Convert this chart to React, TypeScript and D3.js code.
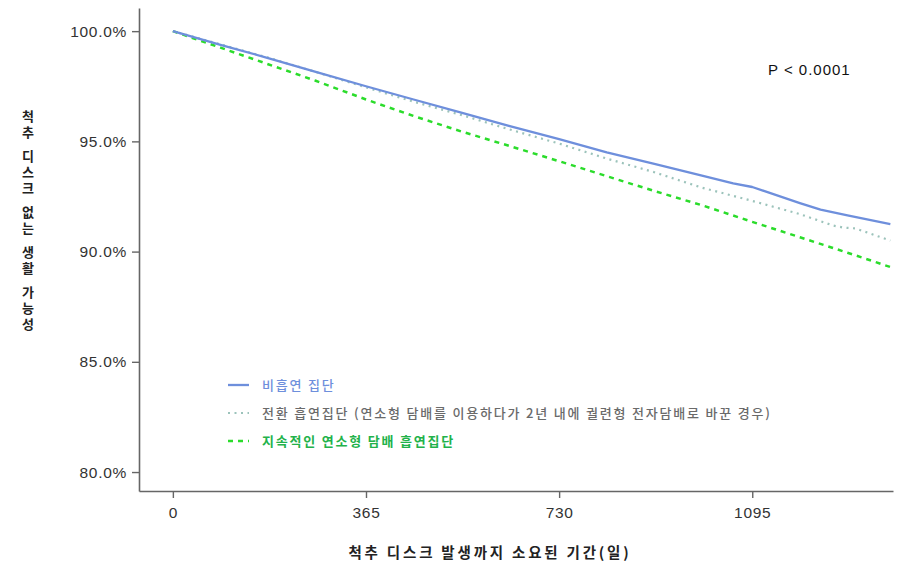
import * as d3 from "d3";
import React, { useEffect, useRef } from "react";

// days since start
const days = [0, 90, 180, 270, 365, 455, 545, 635, 730, 820, 910, 1000, 1059, 1095, 1185, 1224, 1275, 1356];
// 비흡연 집단
const nonSmoker = [100, 99.38, 98.78, 98.15, 97.5, 96.9, 96.3, 95.7, 95.1, 94.5, 93.98, 93.45, 93.09, 92.93, 92.2, 91.9, 91.64, 91.25];

const switchDays = [0, 90, 180, 270, 365, 455, 545, 635, 730, 820, 910, 1000, 1095, 1185, 1248, 1267, 1290, 1356];
// 전환 흡연집단
const switcher = [100, 99.4, 98.8, 98.15, 97.45, 96.8, 96.2, 95.55, 94.9, 94.22, 93.6, 92.9, 92.3, 91.7, 91.18, 91.09, 91.05, 90.5];

const smokeDays = [0, 90, 180, 270, 365, 455, 545, 635, 730, 820, 910, 1000, 1095, 1185, 1275, 1356];
// 지속적인 연소형 담배 흡연집단
const smoker = [100, 99.25, 98.5, 97.75, 96.9, 96.15, 95.45, 94.8, 94.1, 93.42, 92.75, 92.1, 91.35, 90.65, 89.95, 89.3];

const xTicks = [0, 365, 730, 1095];
const yTicks = [80, 85, 90, 95, 100];

const legendLabels = [
  "비흡연 집단",
  "전환 흡연집단 (연소형 담배를 이용하다가 2년 내에 궐련형 전자담배로 바꾼 경우)",
  "지속적인 연소형 담배 흡연집단",
];
const yTitle = "척추 디스크 없는 생활 가능성";
const xTitle = "척추 디스크 발생까지 소요된 기간(일)";
const pLabel = "P < 0.0001";

const App: React.FC = () => {
  const svgRef = useRef<SVGSVGElement | null>(null);

  useEffect(() => {
    if (!svgRef.current) return;
    const width = 900;
    const height = 567;
    const left = 139;
    const right = 893;
    const bottom = 491;
    const top = 8;
    const kr = "'Noto Sans CJK KR', 'Noto Sans', sans-serif";
    const latin = "'Liberation Sans', Arial, sans-serif";

    const x = d3.scaleLinear().domain([-64, 1361]).range([left, right]);
    const y = d3.scaleLinear().domain([79.14, 101.05]).range([bottom, top]);

    const svg = d3.select(svgRef.current);
    svg.selectAll("*").remove();
    svg.attr("width", width).attr("height", height);
    svg.append("rect").attr("width", width).attr("height", height).attr("fill", "#fff");

    // axes
    const gx = svg
      .append("g")
      .attr("transform", `translate(0,${bottom})`)
      .call(d3.axisBottom(x).tickValues(xTicks).tickSize(7).tickSizeOuter(0).tickPadding(9).tickFormat((d) => String(d)));
    const gy = svg
      .append("g")
      .attr("transform", `translate(${left},0)`)
      .call(
        d3
          .axisLeft(y)
          .tickValues(yTicks)
          .tickSize(7)
          .tickSizeOuter(0)
          .tickPadding(5)
          .tickFormat((d) => `${(d as number).toFixed(1)}%`),
      );
    [gx, gy].forEach((g) => {
      g.select(".domain").attr("stroke", "#666").attr("stroke-width", 1.6);
      g.selectAll(".tick line").attr("stroke", "#666").attr("stroke-width", 1.4);
      g.selectAll(".tick text")
        .attr("fill", "#333")
        .attr("font-size", 15.5)
        .attr("letter-spacing", 0.7)
        .attr("font-family", latin);
    });

    const series = [
      { xs: days, ys: nonSmoker, color: "#6e8fdc", dash: null as string | null, w: 2.3 },
      { xs: switchDays, ys: switcher, color: "#9cc3bb", dash: "2,4.5", w: 2.2 },
      { xs: smokeDays, ys: smoker, color: "#2bdc2b", dash: "5,5", w: 2.5 },
    ];

    series
      .slice()
      .reverse()
      .forEach((s) => {
        const gen = d3
          .line<number>()
          .x((d) => x(d))
          .y((_, i) => y(s.ys[i]));
        const p = svg
          .append("path")
          .attr("d", gen(s.xs))
          .attr("fill", "none")
          .attr("stroke", s.color)
          .attr("stroke-width", s.w)
          .attr("stroke-linejoin", "round");
        if (s.dash) p.attr("stroke-dasharray", s.dash);
      });

    // legend
    const textColors = ["#6e8fdc", "#6a6a6a", "#22b24a"];
    const weights = [500, 500, 700];
    legendLabels.forEach((lbl, i) => {
      const ly = 385 + i * 28;
      const s = series[i];
      const l = svg
        .append("line")
        .attr("x1", 228)
        .attr("x2", 249)
        .attr("y1", ly)
        .attr("y2", ly)
        .attr("stroke", s.color)
        .attr("stroke-width", s.w);
      if (s.dash) l.attr("stroke-dasharray", s.dash);
      svg
        .append("text")
        .attr("x", 262)
        .attr("y", ly)
        .attr("dy", "0.35em")
        .attr("fill", textColors[i])
        .attr("font-size", 13)
        .attr("letter-spacing", 1.8)
        .attr("font-weight", weights[i])
        .attr("font-family", kr)
        .text(lbl);
    });

    svg
      .append("text")
      .attr("x", 768)
      .attr("y", 70)
      .attr("dy", "0.35em")
      .attr("font-size", 15)
      .attr("letter-spacing", 1)
      .attr("font-family", latin)
      .attr("fill", "#111")
      .text(pLabel);

    // vertical y title, upright characters
    svg
      .append("text")
      .attr("x", 28)
      .attr("y", 110)
      .style("writing-mode", "vertical-rl")
      .style("text-orientation", "upright")
      .style("letter-spacing", "3px")
      .style("word-spacing", "-8px")
      .attr("font-size", 13)
      .attr("font-weight", 700)
      .attr("font-family", kr)
      .attr("fill", "#222")
      .text(yTitle);

    svg
      .append("text")
      .attr("x", 490)
      .attr("y", 553)
      .attr("dy", "0.35em")
      .attr("text-anchor", "middle")
      .attr("font-size", 14.5)
      .attr("letter-spacing", 2.8)
      .attr("font-weight", 700)
      .attr("font-family", kr)
      .attr("fill", "#222")
      .text(xTitle);
  }, []);

  return <svg ref={svgRef} width="900" height="567" style={{ position: "absolute", left: 0, top: 0, display: "block" }} />;
};

export default App;
